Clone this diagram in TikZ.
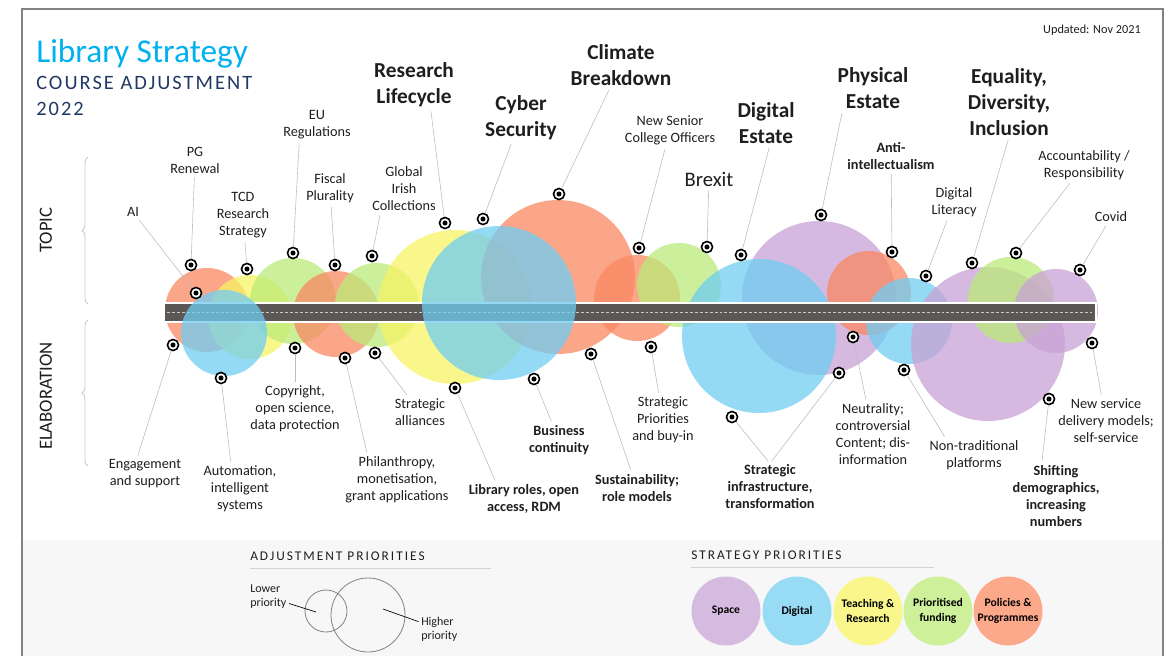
\documentclass[tikz,border=0pt]{standalone}
\usepackage{fontspec}
\setmainfont{Carlito}
\newfontfamily\spacedfont[LetterSpace=10]{Carlito}
\newfontfamily\headfont[LetterSpace=15]{Carlito}
\usetikzlibrary{decorations.pathreplacing}

\definecolor{titlecyan}{RGB}{0,176,240}
\definecolor{titlenavy}{RGB}{32,56,100}
\definecolor{txt}{RGB}{30,30,30}
\definecolor{leadgray}{RGB}{190,190,190}
\definecolor{bracegray}{RGB}{200,200,200}
\definecolor{framegray}{RGB}{130,130,130}
\definecolor{bandgray}{RGB}{247,247,247}
\definecolor{roadgray}{RGB}{90,87,84}
\definecolor{dashgray}{RGB}{200,200,200}
% bubble colours (drawn see-through)
\definecolor{cOrange}{RGB}{250,136,98}
\definecolor{cBlue}{RGB}{112,205,242}
\definecolor{cYellow}{RGB}{247,244,100}
\definecolor{cGreen}{RGB}{186,234,120}
\definecolor{cPurple}{RGB}{200,162,213}
% legend colours (solid)
\definecolor{lSpace}{RGB}{214,187,224}
\definecolor{lDigital}{RGB}{152,219,245}
\definecolor{lTeach}{RGB}{249,247,140}
\definecolor{lFund}{RGB}{206,240,155}
\definecolor{lPolicy}{RGB}{252,168,138}

\tikzset{
  topic/.style={font=\fontsize{10.7}{12.75}\selectfont, text=txt, align=center, inner sep=1pt},
  topicbold/.style={topic, font=\fontsize{10.7}{12.75}\selectfont\bfseries},
  bigtopic/.style={topic, font=\fontsize{16}{19.5}\selectfont\bfseries},
  leader/.style={draw=leadgray, line width=0.45pt, shorten <=2pt},
  dotpin/.style={circle, draw=black, fill=white, line width=1.2pt, minimum size=8.3pt, inner sep=0pt,
    path picture={\fill[black] (path picture bounding box.center) circle (1.9pt);}},
  bubble/.style={fill opacity=0.75},
  legendball/.style={circle, minimum size=51.75pt, inner sep=0pt, text=black,
    font=\fontsize{8.7}{11.8}\selectfont\bfseries, align=center},
}

\begin{document}
\begin{tikzpicture}[x=0.75pt, y=-0.75pt]

    \useasboundingbox (0,0) rectangle (1170,656);

    % Frame and legend band
    \fill[bandgray] (22,540) rectangle (1163,656);
    \draw[framegray, line width=0.9pt] (22,656) -- (22,9) -- (1163,9) -- (1163,656);

    % Title
    \node[anchor=base west, inner sep=0pt, text=titlecyan, font=\fontsize{25}{29}\selectfont] (title) at (36,63) {Library Strategy};
    \node[anchor=base west, inner sep=0pt, text=titlenavy, font=\fontsize{15.3}{18}\spacedfont] (subtitle) at (36,90) {COURSE ADJUSTMENT};
    \node[anchor=base west, inner sep=0pt, text=titlenavy, font=\fontsize{15.3}{18}\spacedfont] (year) at (36,116) {2022};
    \node[anchor=base east, inner sep=0pt, text=txt, font=\fontsize{9.2}{11}\selectfont] (updated) at (1141,34) {Updated: Nov 2021};

    % Side braces
    \draw[decorate, decoration={brace, amplitude=4.5pt}, bracegray, line width=0.6pt] (88,304) -- (88,157);
    \draw[decorate, decoration={brace, amplitude=4.5pt}, bracegray, line width=0.6pt] (88,466) -- (88,320);
    \node[rotate=90, text=txt, font=\fontsize{14}{16}\selectfont] (topicside) at (46,230) {TOPIC};
    \node[rotate=90, text=txt, font=\fontsize{14}{16}\selectfont] (elabside) at (46,396) {ELABORATION};

    % Bubbles under the road
    \fill[cOrange, bubble] (207,310) circle[radius=42];
    \fill[cYellow, bubble] (250,317) circle[radius=42];
    \fill[cGreen, bubble] (293,301) circle[radius=43];
    \fill[cOrange, bubble] (336,314) circle[radius=43];
    \fill[cGreen, bubble] (377,305) circle[radius=42];
    \fill[cYellow, bubble] (455,307) circle[radius=77];
    \fill[cOrange, bubble] (558,277) circle[radius=77];
    \fill[cOrange, bubble] (637,298) circle[radius=43];
    \fill[cGreen, bubble] (679,285) circle[radius=42];
    \fill[cPurple, bubble] (819,298) circle[radius=77];
    \fill[cBlue, bubble] (759,336) circle[radius=77];
    \fill[cOrange, bubble] (869,293) circle[radius=42];
    \fill[cBlue, bubble] (909,321) circle[radius=43];
    \fill[cPurple, bubble] (988,344) circle[radius=77];
    \fill[cGreen, bubble] (1011,300) circle[radius=43];
    \fill[cPurple, bubble] (1056,311) circle[radius=42];

    % Road
    \fill[roadgray] (164,303) rectangle (1096,322);
    \draw[white, line width=0.8pt] (164,303) rectangle (1096,322);
    \draw[dashgray, line width=1.2pt, dash pattern=on 2.2pt off 1.5pt] (167,312.5) -- (1093,312.5);

    % Bubbles over the road
    \fill[cBlue, bubble] (224,333) circle[radius=43];
    \fill[cBlue, bubble] (499,303) circle[radius=77];

    % Topic labels
    \node[topic] (tAI) at (133,212) {AI};
    \node[topic] (tPG) at (195,160) {PG\\Renewal};
    \node[topic] (tTCD) at (243,215) {TCD\\Research\\Strategy};
    \node[topic] (tEU) at (317,125) {EU\\Regulations};
    \node[topic] (tFis) at (330,188) {Fiscal\\Plurality};
    \node[topic] (tGIC) at (404,189) {Global\\Irish\\Collections};
    \node[bigtopic] (tRL) at (414,85) {Research\\Lifecycle};
    \node[bigtopic] (tCS) at (521,118) {Cyber\\Security};
    \node[bigtopic] (tCB) at (621,65) {Climate\\Breakdown};
    \node[topic] (tNSC) at (670,130) {New Senior\\College Officers};
    \node[topic, font=\fontsize{15.5}{18}\selectfont] (tBrx) at (709,179) {Brexit};
    \node[bigtopic] (tDE) at (766,123) {Digital\\Estate};
    \node[bigtopic] (tPE) at (873,88) {Physical\\Estate};
    \node[topicbold] (tAnti) at (891,156) {Anti-\\intellectualism};
    \node[topic] (tDL) at (954,202) {Digital\\Literacy};
    \node[bigtopic] (tEDI) at (1009,102) {Equality,\\Diversity,\\Inclusion};
    \node[topic] (tAcc) at (1084,165) {Accountability /\\Responsibility};
    \node[topic] (tCov) at (1111,217) {Covid};

    % Elaboration labels
    \node[topic] (eEng) at (145,474) {Engagement\\and support};
    \node[topic] (eAut) at (240,489) {Automation,\\intelligent\\systems};
    \node[topic] (eCop) at (295,409) {Copyright,\\open science,\\data protection};
    \node[topic] (ePhi) at (397,480) {Philanthropy,\\monetisation,\\grant applications};
    \node[topic] (eSA) at (420,412) {Strategic\\alliances};
    \node[topicbold] (eLib) at (524,499) {Library roles, open\\access, RDM};
    \node[topicbold] (eBC) at (559,440) {Business\\continuity};
    \node[topicbold] (eSus) at (637,488) {Sustainability;\\role models};
    \node[topic] (eSP) at (663,420) {Strategic\\Priorities\\and buy-in};
    \node[topicbold] (eSI) at (770,487) {Strategic\\infrastructure,\\transformation};
    \node[topic] (eNeu) at (873,434) {Neutrality;\\controversial\\Content; dis-\\information};
    \node[topic] (eNT) at (974,455) {Non-traditional\\platforms};
    \node[topicbold] (eShi) at (1056,496) {Shifting\\demographics,\\increasing\\numbers};
    \node[topic] (eNS) at (1106,421) {New service\\delivery models;\\self-service};

    % Pins, topic side
    \node[dotpin] (pAI) at (196,293) {};
    \node[dotpin] (pPG) at (191,265) {};
    \node[dotpin] (pTCD) at (247,269) {};
    \node[dotpin] (pEU) at (293,253) {};
    \node[dotpin] (pFis) at (335,265) {};
    \node[dotpin] (pGIC) at (372,256) {};
    \node[dotpin] (pRL) at (445,223) {};
    \node[dotpin] (pCS) at (483,219) {};
    \node[dotpin] (pCB) at (559,194) {};
    \node[dotpin] (pNSC) at (639,248) {};
    \node[dotpin] (pBrx) at (707,247) {};
    \node[dotpin] (pDE) at (741,255) {};
    \node[dotpin] (pPE) at (821,215) {};
    \node[dotpin] (pAnti) at (892,252) {};
    \node[dotpin] (pDL) at (926,276) {};
    \node[dotpin] (pEDI) at (972,263) {};
    \node[dotpin] (pAcc) at (1016,253) {};
    \node[dotpin] (pCov) at (1080,270) {};

    % Pins, elaboration side
    \node[dotpin] (qEng) at (173,345) {};
    \node[dotpin] (qAut) at (221,378) {};
    \node[dotpin] (qCop) at (295,348) {};
    \node[dotpin] (qPhi) at (345,358) {};
    \node[dotpin] (qSA) at (375,353) {};
    \node[dotpin] (qLib) at (455,388) {};
    \node[dotpin] (qBC) at (534,379) {};
    \node[dotpin] (qSus) at (591,354) {};
    \node[dotpin] (qSP) at (651,347) {};
    \node[dotpin] (qSI) at (732,417) {};
    \node[dotpin] (qSI2) at (839,373) {};
    \node[dotpin] (qNeu) at (853,337) {};
    \node[dotpin] (qNT) at (904,370) {};
    \node[dotpin] (qShi) at (1049,399) {};
    \node[dotpin] (qNS) at (1092,343) {};

    % Leader lines, topic side
    \draw[leader] (tAI) -- (pAI);
    \draw[leader] (tPG) -- (pPG);
    \draw[leader] (tTCD) -- (pTCD);
    \draw[leader] (tEU.-138) -- (pEU);
    \draw[leader] (tFis) -- (pFis);
    \draw[leader] (tGIC.-135) -- (pGIC);
    \draw[leader] (tRL.-55) -- (pRL);
    \draw[leader] (tCS) -- (pCS);
    \draw[leader] (tCB) -- (pCB);
    \draw[leader] (tNSC) -- (pNSC);
    \draw[leader] (tBrx) -- (pBrx);
    \draw[leader] (tDE.-80) -- (pDE);
    \draw[leader] (tPE.-144) -- (pPE);
    \draw[leader] (tAnti) -- (pAnti);
    \draw[leader] (tDL) -- (pDL);
    \draw[leader] (tEDI.south) -- (pEDI);
    \draw[leader] (tAcc) -- (pAcc);
    \draw[leader] (tCov) -- (pCov);

    % Leader lines, elaboration side
    \draw[leader] (eEng.117) -- (qEng);
    \draw[leader] (eAut.110) -- (qAut);
    \draw[leader] (eCop) -- (qCop);
    \draw[leader] (ePhi.140) -- (qPhi);
    \draw[leader] (eSA) -- (qSA);
    \draw[leader] (eLib.150) -- (qLib);
    \draw[leader] (eBC) -- (qBC);
    \draw[leader] (eSus) -- (qSus);
    \draw[leader] (eSP) -- (qSP);
    \draw[leader] (eSI.north) -- (qSI);
    \draw[leader] (eSI.north) -- (qSI2);
    \draw[leader] (eNeu) -- (qNeu);
    \draw[leader] (eNT.150) -- (qNT);
    \draw[leader] (eShi.114) -- (qShi);
    \draw[leader] (eNS) -- (qNS);

    % Legend: adjustment priorities
    \node[anchor=west, inner sep=0pt, text=txt, font=\fontsize{10}{12}\headfont] (adjhead) at (250,556) {ADJUSTMENT PRIORITIES};
    \draw[leadgray!70, line width=0.5pt] (250,568) -- (491,568);
    \draw[framegray, line width=0.6pt] (326,611) circle[radius=21];
    \draw[framegray, line width=0.6pt] (368,615) circle[radius=37];
    \node[anchor=west, align=left, inner sep=0pt, text=txt, font=\fontsize{9}{10.5}\selectfont] (lowlbl) at (250,597) {Lower\\priority};
    \node[anchor=west, align=left, inner sep=0pt, text=txt, font=\fontsize{9}{10.5}\selectfont] (highlbl) at (421,629) {Higher\\priority};
    \coordinate (lowpt) at (316,612);
    \coordinate (highpt) at (383,609);
    \draw[black, line width=0.5pt, shorten <=2pt] (lowlbl) -- (lowpt);
    \draw[black, line width=0.5pt, shorten <=2pt] (highlbl) -- (highpt);

    % Legend: strategy priorities
    \node[anchor=west, inner sep=0pt, text=txt, font=\fontsize{10}{12}\headfont] (strathead) at (691,555) {STRATEGY PRIORITIES};
    \draw[leadgray!70, line width=0.5pt] (691,567) -- (934,567);
    \node[legendball, fill=lSpace] (lgSpace) at (726,611) {Space};
    \node[legendball, fill=lDigital] (lgDigital) at (797,611) {Digital};
    \node[legendball, fill=lTeach] (lgTeach) at (868,611) {Teaching \&\\Research};
    \node[legendball, fill=lFund] (lgFund) at (938,611) {Prioritised\\funding};
    \node[legendball, fill=lPolicy] (lgPolicy) at (1008,611) {Policies \&\\Programmes};

\end{tikzpicture}
\end{document}
